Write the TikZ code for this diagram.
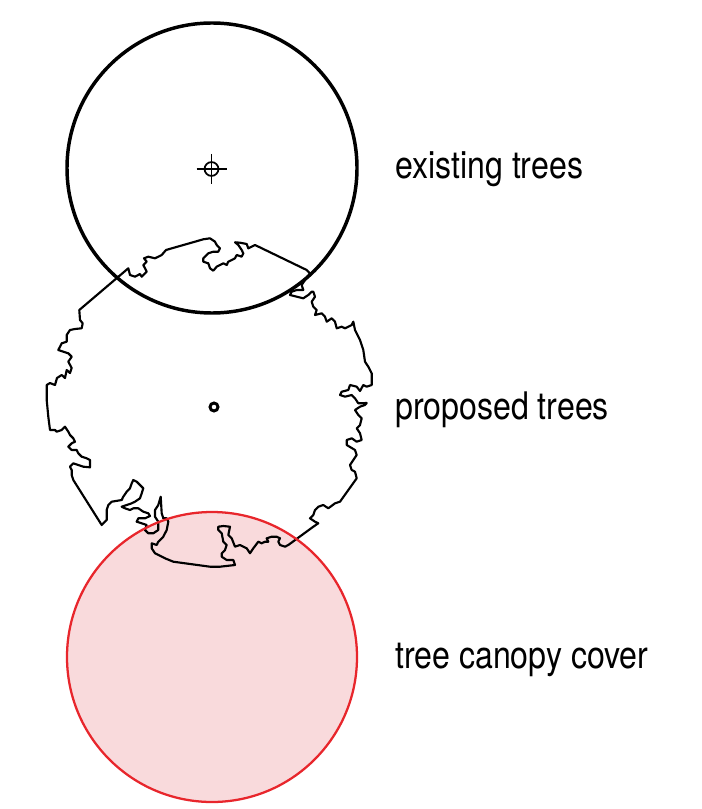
\documentclass[tikz,border=0pt]{standalone}
\usepackage{fontspec}
\usepackage{xcolor}
\usepackage{tikz}
\newfontfamily\labelfont[FakeStretch=0.845]{TeX Gyre Heros}
\definecolor{canopyred}{RGB}{232,38,44}
\definecolor{canopyfill}{RGB}{249,218,220}

\begin{document}
\begin{tikzpicture}[x=0.75pt,y=-0.75pt,
    legend/.style={anchor=base west,inner sep=0pt,font=\labelfont\fontsize{28.5}{34}\selectfont},
    treeline/.style={line width=1.6pt,line join=round}]
    \useasboundingbox (0,0) rectangle (701,809);
    \fill[canopyfill] (212,657) circle[radius=108.75pt];
    \draw[treeline,black]
        (50,430) -- (48.3,416.7) -- (46.7,400) -- (46.7,385) -- (50,383) -- (55,385) -- (57,378)
        -- (61.7,375) -- (65,378) -- (66.7,370) -- (70,373) -- (71.7,368) -- (68.3,361.7)
        -- (71.7,356.7) -- (68.3,353.3) -- (63.3,351.7) -- (58.3,350) -- (61.7,343.3) -- (66.7,341.7)
        -- (66.7,335) -- (70,330) -- (75,329) -- (81.7,328.3) -- (82.7,323.3) -- (80,320) -- (79.3,310)
        -- (128.3,268.3) -- (130,275) -- (135,276.7) -- (140,274) -- (141.7,276.7) -- (146.7,271.7)
        -- (143.3,265) -- (146.7,261.7) -- (144,258.3) -- (148.3,256.7) -- (155,258.3) -- (161.7,255)
        -- (166,250) -- (203.3,239.3) -- (210,238.3) -- (215,241.7) -- (216.7,245) -- (220,248.3)
        -- (218.3,251.7) -- (213.3,251.7) -- (208.3,253.3) -- (203.3,258.3) -- (203.3,261.7)
        -- (208.3,263.3) -- (210,268.3) -- (213.3,270.7) -- (216.7,266.7) -- (220,265) -- (223.3,263.3)
        -- (226.7,265) -- (228.3,261.7) -- (231.7,260) -- (235,258.3) -- (236.7,255) -- (241.7,256.7)
        -- (243.3,253.3) -- (241.7,250) -- (238.3,245) -- (235,242.3) -- (240,242.7) -- (246.7,244)
        -- (248.3,248.3) -- (255,245) -- (306.7,270) -- (310,273.3) -- (305,280) -- (301.7,285)
        -- (303.3,290) -- (296.7,290) -- (291.7,291.7) -- (290,295) -- (296.7,296.7) -- (303.3,298.3)
        -- (308.3,295) -- (311.7,291.7) -- (313.3,291.7) -- (315,296.7) -- (311.7,301.7) -- (313.3,306.7)
        -- (316.7,310) -- (315,315) -- (321.7,313.3) -- (325,316.7) -- (326.7,321.7) -- (331.7,318.3)
        -- (335,321.7) -- (336.7,328.3) -- (341.7,326.7) -- (345,328.3) -- (348.3,326.7) -- (351.7,325)
        -- (353.3,321.7) -- (355,330) -- (360,340) -- (363.3,350) -- (365,361.7) -- (368.3,366.7)
        -- (371.7,373.3) -- (371.7,385) -- (366.7,386.7) -- (363.3,385) -- (360,391) -- (356.7,386.7)
        -- (350,385) -- (348.3,390) -- (341.7,391.7) -- (340,395) -- (345,396.7) -- (351.7,395)
        -- (355,398.3) -- (358.3,403.3) -- (366.7,403) -- (365,405) -- (360,406.7) -- (355,410)
        -- (358.3,415) -- (361.7,418.3) -- (360,425) -- (356.7,428.3) -- (360,433.3) -- (361.7,440)
        -- (356.7,441.7) -- (351.7,438.3) -- (346.7,440) -- (346.7,445) -- (355,450) -- (356.7,455)
        -- (353.3,460) -- (350,465) -- (351.7,470) -- (355,471.7) -- (356.7,478.3) -- (340,501.7)
        -- (335,503.3) -- (328.3,508.3) -- (323.3,505) -- (318.3,506.7) -- (315,510) -- (313.3,515)
        -- (310,518.3) -- (315,521.7) -- (318.3,523.3) -- (313.3,526.7) -- (288.3,545) -- (285,546.7)
        -- (280,545) -- (278.3,541.7) -- (280,538.3) -- (276.7,536.7) -- (271.7,536.7) -- (266.7,538.3)
        -- (268.3,541.7) -- (265,541.7) -- (261.7,543.3) -- (258.3,541.7) -- (253.3,548.3) -- (250,553.3)
        -- (246.7,548.3) -- (243.3,546.7) -- (240,545) -- (235,546.7) -- (231.7,538.3) -- (228.3,535)
        -- (230,526.7) -- (223.3,526) -- (218.3,526.7) -- (218.3,530) -- (221.7,533.3) -- (223.3,541.7)
        -- (226.7,545) -- (225,550) -- (221.7,553.3) -- (221.7,556.7) -- (226.7,560) -- (233.3,560)
        -- (235,565) -- (220,566.7) -- (210,566.7) -- (173.3,561.7) -- (165,558.3) -- (155,553.3)
        -- (151.7,548.3) -- (151.7,543.3) -- (156.7,545) -- (158.3,541.7) -- (163.3,536.7) -- (166.7,530)
        -- (168.3,521.7) -- (166.7,518.3) -- (163.3,518.3) -- (161.7,513.3) -- (160.7,496.7) -- (158.3,505)
        -- (155,510) -- (155,516.7) -- (158.3,521.7) -- (158.3,530) -- (153.3,533.3) -- (148.3,533.3)
        -- (145,530) -- (146.7,525) -- (141.7,523.3) -- (136.7,521.7) -- (138.3,518.3) -- (145,518.3)
        -- (150,516) -- (148.3,513.3) -- (143.3,511.7) -- (138.3,508.3) -- (133.3,508.3) -- (130,510)
        -- (125,508.3) -- (121.7,506.7) -- (126.7,505) -- (131.7,503.3) -- (135,501.7) -- (140,498.3)
        -- (141.7,493.3) -- (143.3,488.3) -- (140,485) -- (136.7,481.7) -- (133.3,480) -- (131.7,483.3)
        -- (130,488.3) -- (126.7,491.7) -- (123.3,496.7) -- (121.7,500) -- (111.7,501.7) -- (108.3,505)
        -- (106.7,510) -- (106.7,520) -- (101.7,525) -- (73.3,480) -- (71.7,475) -- (71.7,470)
        -- (70,466.7) -- (73.3,463.3) -- (78.3,465) -- (83.3,466.7) -- (90,467.3) -- (90,460)
        -- (86.7,458.3) -- (81.7,456.7) -- (78.3,453.3) -- (76.7,450) -- (71.7,450) -- (68.3,446.7)
        -- (71.7,443.3) -- (75,441.7) -- (73.3,438.3) -- (70,435) -- (68.3,431.7) -- (65,426.7)
        -- (61.7,430) -- (56.7,431.7) -- (55,430) -- cycle;
    \draw[canopyred,line width=1.7pt] (212,657) circle[radius=108.75pt];
    \draw[line width=2.6pt] (212,168) circle[radius=108.75pt];
    \draw[line width=1.3pt] (211.5,169) circle[radius=5.2pt];
    \draw[line width=1.3pt] (196.5,169) -- (226.5,169);
    \draw[line width=1.3pt] (211.5,154) -- (211.5,184);
    \draw[line width=2.2pt] (214,407) circle[radius=3pt];
    \node[legend] (existing) at (395,179) {existing trees};
    \node[legend] (proposed) at (395,419) {proposed trees};
    \node[legend] (canopy) at (395,668) {tree canopy cover};
\end{tikzpicture}
\end{document}
